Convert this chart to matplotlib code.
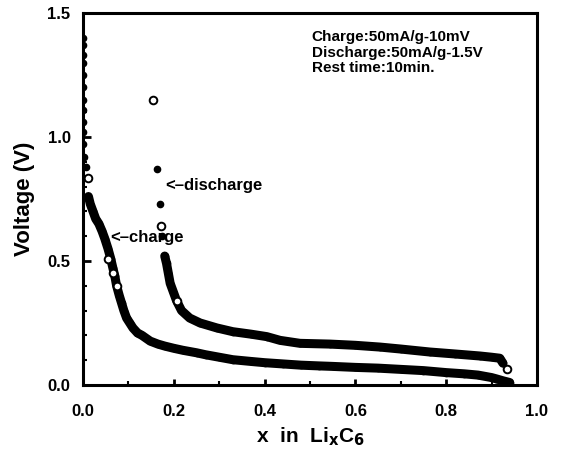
import matplotlib
matplotlib.use('Agg')
import matplotlib.pyplot as plt

plt.rcParams['font.family'] = ['Liberation Sans', 'DejaVu Sans']
plt.rcParams['font.weight'] = 'bold'
plt.rcParams['mathtext.default'] = 'bf'

# charge curve (lower band), x in LixC6 vs voltage
charge_x = [0.0, 0.0, 0.0, 0.0, 0.0, 0.0, 0.0, 0.0, 0.0, 0.0, 0.0, 0.003, 0.006,
            0.012, 0.016, 0.022, 0.028, 0.035, 0.042, 0.048, 0.055, 0.061, 0.066,
            0.070, 0.074, 0.080, 0.085, 0.090, 0.096, 0.103, 0.110, 0.120, 0.130,
            0.148, 0.165, 0.18, 0.20, 0.22, 0.25, 0.27, 0.30, 0.33, 0.37, 0.40,
            0.44, 0.48, 0.52, 0.55, 0.60, 0.65, 0.70, 0.75, 0.80, 0.84, 0.87,
            0.90, 0.91, 0.925, 0.94]
charge_v = [1.40, 1.37, 1.33, 1.30, 1.25, 1.20, 1.15, 1.11, 1.06, 1.02, 0.97, 0.92,
            0.88, 0.76, 0.73, 0.70, 0.67, 0.65, 0.62, 0.59, 0.55, 0.51, 0.47,
            0.44, 0.40, 0.36, 0.33, 0.30, 0.27, 0.25, 0.23, 0.21, 0.20,
            0.177, 0.165, 0.157, 0.148, 0.140, 0.130, 0.122, 0.112, 0.102, 0.095,
            0.090, 0.085, 0.080, 0.077, 0.075, 0.071, 0.068, 0.063, 0.058, 0.050,
            0.045, 0.040, 0.030, 0.025, 0.017, 0.010]
charge_open_x = [0.011, 0.055, 0.066, 0.074]
charge_open_v = [0.835, 0.51, 0.45, 0.40]

# discharge curve (upper band)
discharge_x = [0.163, 0.170, 0.175, 0.180, 0.184, 0.188, 0.192, 0.199, 0.206,
               0.217, 0.235, 0.258, 0.295, 0.33, 0.37, 0.405, 0.434, 0.478,
               0.544, 0.60, 0.654, 0.70, 0.764, 0.82, 0.874, 0.900, 0.918,
               0.925, 0.933]
discharge_v = [0.87, 0.73, 0.60, 0.52, 0.49, 0.45, 0.41, 0.375, 0.34,
               0.30, 0.27, 0.25, 0.23, 0.215, 0.205, 0.195, 0.180, 0.168,
               0.165, 0.160, 0.153, 0.145, 0.133, 0.125, 0.117, 0.112, 0.108,
               0.088, 0.065]
discharge_open_x = [0.155, 0.172, 0.206, 0.933]
discharge_open_v = [1.15, 0.64, 0.34, 0.065]

x_ticks = [0.0, 0.2, 0.4, 0.6, 0.8, 1.0]
y_ticks = [0.0, 0.5, 1.0, 1.5]

fig = plt.figure(figsize=(5.62, 4.53), dpi=100)
ax = fig.add_axes([0.1477, 0.1501, 0.8078, 0.8212])

# data bands
ax.plot(charge_x[13:], charge_v[13:], color='black', lw=6.5, solid_capstyle='round')
ax.plot(charge_x, charge_v, 'o', color='black', ms=4.5)
ax.plot(discharge_x[3:-1], discharge_v[3:-1], color='black', lw=6.5, solid_capstyle='round')
ax.plot(discharge_x, discharge_v, 'o', color='black', ms=4.5)
ax.plot(charge_open_x, charge_open_v, 'o', mfc='white', mec='black', ms=5.5, mew=1.4)
ax.plot(discharge_open_x, discharge_open_v, 'o', mfc='white', mec='black', ms=5.5, mew=1.4)

ax.set_xlim(0, 1.0)
ax.set_ylim(0, 1.5)
ax.set_xticks(x_ticks)
ax.set_xticklabels([f'{t:.1f}' for t in x_ticks])
ax.set_yticks(y_ticks)
ax.set_yticklabels([f'{t:.1f}' for t in y_ticks])
ax.set_xticks([0.1, 0.3, 0.5, 0.7, 0.9], minor=True)
ax.set_yticks([0.1, 0.2, 0.3, 0.4, 0.6, 0.7, 0.8, 0.9, 1.1, 1.2, 1.3, 1.4], minor=True)
ax.tick_params(axis='x', which='major', direction='in', length=4, width=2,
               labelsize=12, pad=14)
ax.tick_params(axis='y', which='major', direction='in', length=6, width=2,
               labelsize=12, pad=9)
ax.tick_params(which='minor', direction='in', length=3, width=1.5)

for s in ax.spines.values():
    s.set_linewidth(2.2)

ax.set_xlabel(r'x  in  Li$_x$C$_6$', fontsize=15, fontweight='bold', labelpad=4)
ax.set_ylabel('Voltage (V)', fontsize=16, fontweight='bold', labelpad=9)

ax.text(0.181, 0.806, '<\u2013discharge', fontsize=12, fontweight='bold', va='center')
ax.text(0.059, 0.593, '<\u2013charge', fontsize=12, fontweight='bold', va='center')

ax.text(0.504, 1.403, 'Charge:50mA/g-10mV', fontsize=11, fontweight='bold', va='center')
ax.text(0.504, 1.339, 'Discharge:50mA/g-1.5V', fontsize=11, fontweight='bold', va='center')
ax.text(0.504, 1.278, 'Rest time:10min.', fontsize=11, fontweight='bold', va='center')

fig.savefig('out.png', dpi=100)
